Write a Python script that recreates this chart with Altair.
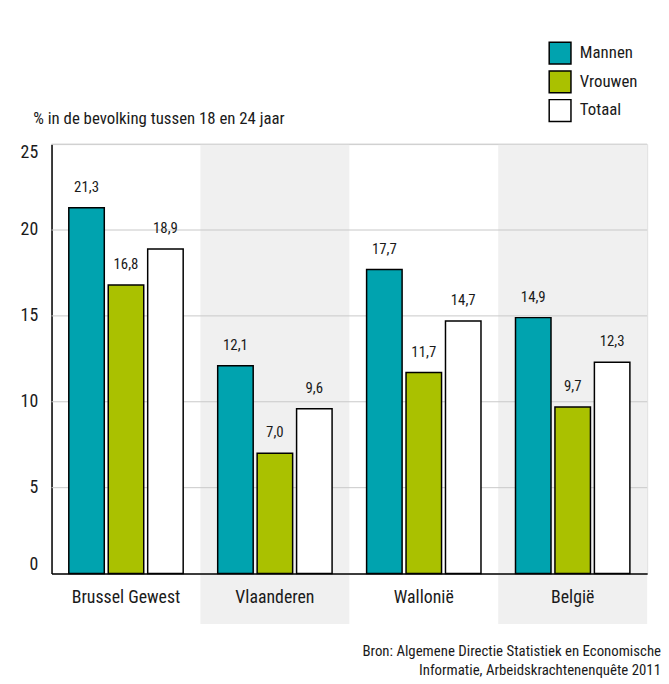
import altair as alt
import pandas as pd

regions = ["Brussel Gewest", "Vlaanderen", "Wallonië", "België"]
series = ["Mannen", "Vrouwen", "Totaal"]
mannen = [21.3, 12.1, 17.7, 14.9]
vrouwen = [16.8, 7.0, 11.7, 9.7]
totaal = [18.9, 9.6, 14.7, 12.3]
shaded = ["Vlaanderen", "België"]
y_ticks = [0, 5, 10, 15, 20, 25]
grid_values = [5, 10, 15, 20, 25]
colors = ["#00A3AF", "#AAC100", "#FFFFFF"]
y_title = "% in de bevolking tussen 18 en 24 jaar"
source_1 = "Bron: Algemene Directie Statistiek en Economische"
source_2 = "Informatie, Arbeidskrachtenenquête 2011"

FONT = "Liberation Sans Narrow, Roboto Condensed, DejaVu Sans Condensed, Roboto"
TXT = "#1a1a1a"
W, H = 602, 434

rows = []
for s, vals in zip(series, [mannen, vrouwen, totaal]):
    for r, v in zip(regions, vals):
        rows.append({"region": r, "series": s, "value": v,
                     "label": f"{v:.1f}".replace(".", ",")})
df = pd.DataFrame(rows)
bands = pd.DataFrame({"region": shaded})
grid = pd.DataFrame({"g": grid_values})

x_scale = alt.Scale(domain=regions, paddingInner=0, paddingOuter=0)
x_enc = alt.X("region:N", sort=regions, scale=x_scale,
              axis=alt.Axis(title=None, labelAngle=0, tickSize=0, labelPadding=24,
                            bandPosition=0.5, labelAlign="center", labelFlush=False,
                            labelFontSize=18, labelFont=FONT, labelColor=TXT,
                            domainColor="black", domainWidth=1.5))
y_scale = alt.Scale(domain=[0, 25], nice=False)

band_layer = alt.Chart(bands).mark_rect(color="#F0F0F0").encode(
    x=alt.X("region:N", sort=regions, scale=x_scale),
    y=alt.value(0), y2=alt.value(H + 51))

grid_layer = alt.Chart(grid).mark_rule(color="#C8C8C8", strokeWidth=1).encode(
    y=alt.Y("g:Q", scale=y_scale), x=alt.value(0), x2=alt.value(W))

bars = alt.Chart(df).mark_bar(stroke="black", strokeWidth=1.5).encode(
    x=x_enc,
    xOffset=alt.XOffset("series:N", sort=series,
                        scale=alt.Scale(domain=series, paddingInner=0.1, paddingOuter=0.4375)),
    y=alt.Y("value:Q", scale=y_scale,
            axis=alt.Axis(values=y_ticks, grid=False, tickSize=0, labelPadding=14,
                          labelFontSize=18, labelFont=FONT, labelColor=TXT, labelFlush=True,
                          domainColor="black", domainWidth=1.5,
                          title=y_title, titleAngle=0, titleAlign="left",
                          titleBaseline="middle", titleX=-19, titleY=-26,
                          titleFont=FONT, titleFontSize=17, titleFontWeight="normal",
                          titleColor=TXT)),
    color=alt.Color("series:N", sort=series,
                    scale=alt.Scale(domain=series, range=colors),
                    legend=alt.Legend(title=None, orient="none", legendX=502, legendY=-104,
                                      symbolType="square", symbolSize=484,
                                      symbolStrokeColor="black", symbolStrokeWidth=1.5,
                                      symbolOpacity=1,
                                      labelFont=FONT, labelFontSize=17, labelColor=TXT,
                                      labelOffset=8, rowPadding=1)),
)

labels = alt.Chart(df).mark_text(baseline="middle", dy=-21, fontSize=15, font=FONT,
                                 color=TXT).encode(
    x=alt.X("region:N", sort=regions, scale=x_scale),
    xOffset=alt.XOffset("series:N", sort=series),
    y=alt.Y("value:Q", scale=y_scale),
    text="label:N")

src1 = alt.Chart(pd.DataFrame({"t": [source_1]})).mark_text(
    align="right", baseline="middle", fontSize=15, font=FONT, color=TXT).encode(
    x=alt.value(616), y=alt.value(512), text="t:N")
src2 = alt.Chart(pd.DataFrame({"t": [source_2]})).mark_text(
    align="right", baseline="middle", fontSize=15, font=FONT, color=TXT).encode(
    x=alt.value(616), y=alt.value(532), text="t:N")

chart = alt.layer(band_layer, grid_layer, bars, labels, src1, src2).properties(
    width=W, height=H,
    autosize=alt.AutoSizeParams(type="none"),
    padding={"left": 44, "top": 134, "right": 14, "bottom": 104},
).configure_view(stroke=None).configure(background="white")

chart.save("out.html", embed_options={"renderer": "svg", "actions": False})
